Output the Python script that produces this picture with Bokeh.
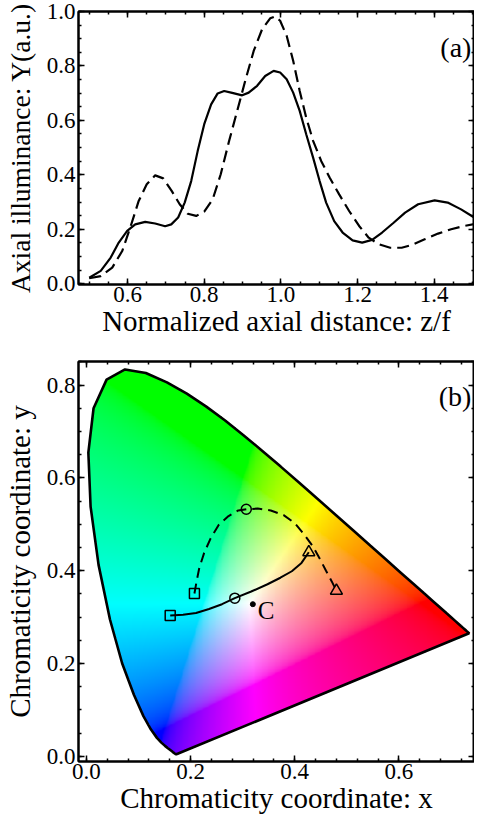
import numpy as np
from bokeh.plotting import figure
from bokeh.models import Range1d, LinearAxis, SingleIntervalTicker, Label, PrintfTickFormatter
from bokeh.layouts import column
from bokeh.embed import file_html
from bokeh.resources import INLINE

# ---------------- Panel (a) data: axial illuminance ----------------
za_solid = [0.500, 0.530, 0.556, 0.577, 0.599, 0.620, 0.646, 0.672, 0.698, 0.714, 0.732,
            0.749, 0.766, 0.783, 0.800, 0.818, 0.835, 0.852, 0.873, 0.899, 0.916, 0.938,
            0.959, 0.981, 0.998, 1.015, 1.032, 1.049, 1.066, 1.084, 1.101, 1.118, 1.139,
            1.161, 1.187, 1.212, 1.238, 1.264, 1.294, 1.324, 1.358, 1.401, 1.435, 1.470, 1.508]
ya_solid = [0.022, 0.047, 0.096, 0.151, 0.194, 0.218, 0.227, 0.221, 0.211, 0.218, 0.243,
            0.298, 0.377, 0.488, 0.586, 0.659, 0.699, 0.708, 0.701, 0.692, 0.702, 0.727,
            0.763, 0.782, 0.776, 0.751, 0.702, 0.635, 0.549, 0.463, 0.377, 0.298, 0.230,
            0.188, 0.159, 0.151, 0.161, 0.188, 0.224, 0.261, 0.292, 0.306, 0.298, 0.273, 0.240]
za_dash = [0.500, 0.530, 0.560, 0.586, 0.607, 0.629, 0.650, 0.672, 0.693, 0.715, 0.736,
           0.757, 0.779, 0.800, 0.822, 0.843, 0.865, 0.886, 0.908, 0.929, 0.951, 0.972,
           0.985, 0.998, 1.015, 1.032, 1.049, 1.066, 1.084, 1.105, 1.127, 1.152, 1.178,
           1.204, 1.229, 1.255, 1.285, 1.315, 1.341, 1.375, 1.410, 1.444, 1.478, 1.513]
ya_dash = [0.020, 0.028, 0.059, 0.120, 0.206, 0.304, 0.365, 0.398, 0.387, 0.341, 0.292,
           0.257, 0.249, 0.265, 0.310, 0.402, 0.525, 0.635, 0.751, 0.855, 0.935, 0.975,
           0.982, 0.966, 0.911, 0.819, 0.708, 0.610, 0.525, 0.451, 0.390, 0.328, 0.267,
           0.212, 0.169, 0.145, 0.132, 0.132, 0.142, 0.163, 0.184, 0.200, 0.212, 0.221]

# ---------------- Panel (b) data: CIE 1931 chromaticity ----------------
locus_x = [0.1741, 0.1740, 0.1738, 0.1736, 0.1733, 0.1730, 0.1726, 0.1721, 0.1714, 0.1703,
           0.1689, 0.1669, 0.1644, 0.1611, 0.1566, 0.1510, 0.1440, 0.1355, 0.1241, 0.1096,
           0.0913, 0.0687, 0.0454, 0.0235, 0.0082, 0.0039, 0.0139, 0.0389, 0.0743, 0.1142,
           0.1547, 0.1929, 0.2296, 0.2658, 0.3016, 0.3373, 0.3731, 0.4087, 0.4441, 0.4788,
           0.5125, 0.5448, 0.5752, 0.6029, 0.6270, 0.6482, 0.6658, 0.6801, 0.6915, 0.7006,
           0.7079, 0.7140, 0.7190, 0.7230, 0.7260, 0.7283, 0.7300, 0.7311, 0.7320, 0.7327,
           0.7334, 0.7340, 0.7344, 0.7346, 0.7347]
locus_y = [0.0050, 0.0050, 0.0049, 0.0049, 0.0048, 0.0048, 0.0048, 0.0048, 0.0051, 0.0058,
           0.0069, 0.0086, 0.0109, 0.0138, 0.0177, 0.0227, 0.0297, 0.0399, 0.0578, 0.0868,
           0.1327, 0.2007, 0.2950, 0.4127, 0.5384, 0.6548, 0.7502, 0.8120, 0.8338, 0.8262,
           0.8059, 0.7816, 0.7543, 0.7243, 0.6923, 0.6589, 0.6245, 0.5896, 0.5547, 0.5202,
           0.4866, 0.4544, 0.4242, 0.3965, 0.3725, 0.3514, 0.3340, 0.3197, 0.3083, 0.2993,
           0.2920, 0.2859, 0.2809, 0.2770, 0.2740, 0.2717, 0.2700, 0.2689, 0.2680, 0.2673,
           0.2666, 0.2660, 0.2656, 0.2654, 0.2653]

solid_cx = [0.161, 0.1856, 0.2105, 0.2355, 0.2604, 0.285, 0.3165, 0.3477, 0.3725, 0.3944, 0.413, 0.427]
solid_cy = [0.3035, 0.305, 0.309, 0.3177, 0.328, 0.341, 0.3553, 0.371, 0.385, 0.399, 0.417, 0.440]
dash_cx = [0.2075, 0.2118, 0.2168, 0.226, 0.2386, 0.254, 0.273, 0.2916, 0.307, 0.329, 0.354,
           0.3787, 0.4006, 0.419, 0.4348, 0.4473, 0.4598, 0.4722, 0.480]
dash_cy = [0.351, 0.378, 0.406, 0.438, 0.470, 0.4986, 0.518, 0.530, 0.5326, 0.534, 0.530,
           0.520, 0.502, 0.477, 0.4525, 0.4277, 0.4007, 0.3745, 0.357]

square_x = [0.161, 0.2075]
square_y = [0.3035, 0.351]
circle_x = [0.285, 0.307]
circle_y = [0.341, 0.5326]
triangle_x = [0.427, 0.480]
triangle_y = [0.440, 0.357]
point_c_x = [0.3196]
point_c_y = [0.328]

FONT = "Liberation Serif"


def style_axes(p, xint, xminor, yint, yminor):
    p.outline_line_color = "black"
    p.outline_line_width = 2
    p.grid.visible = False
    for loc in ("above", "right"):
        ax = LinearAxis()
        p.add_layout(ax, loc)
    for ax in p.xaxis:
        ax.ticker = SingleIntervalTicker(interval=xint, num_minor_ticks=xminor)
    for ax in p.yaxis:
        ax.ticker = SingleIntervalTicker(interval=yint, num_minor_ticks=yminor)
    for ax in p.axis:
        ax.formatter = PrintfTickFormatter(format="%.1f")
        ax.axis_line_color = "black"
        ax.axis_line_width = 2
        ax.major_tick_in = 6
        ax.major_tick_out = 0
        ax.minor_tick_in = 3
        ax.minor_tick_out = 0
        ax.major_tick_line_width = 1.5
        ax.minor_tick_line_width = 1.5
        ax.major_tick_line_color = "black"
        ax.minor_tick_line_color = "black"
        ax.major_label_text_font = FONT
        ax.major_label_text_font_size = "23px"
        ax.major_label_text_color = "black"
        ax.axis_label_text_font = FONT
        ax.axis_label_text_font_size = "29px"
        ax.axis_label_text_font_style = "normal"
        ax.axis_label_text_color = "black"
    for ax in p.above + p.right:
        ax.major_label_text_color = None
        ax.major_label_text_font_size = "1px"
        ax.major_label_standoff = 0
        ax.axis_label = None
    p.below[0].major_label_standoff = 2
    p.below[0].axis_label_standoff = 0
    p.left[0].major_label_standoff = 3
    p.left[0].axis_label_standoff = 8


# ---------------- Figure (a) ----------------
pa = figure(width=474, height=347, output_backend="svg", toolbar_location=None,
            x_range=Range1d(0.472, 1.505), y_range=Range1d(-0.003, 1.0),
            min_border_left=75, min_border_right=0, min_border_top=11, min_border_bottom=63,
            background_fill_color="white", border_fill_color="white")
pa.xaxis.axis_label = "Normalized axial distance: z/f"
pa.yaxis.axis_label = "Axial illuminance: Y(a.u.)"
pa.line(za_solid, ya_solid, line_color="black", line_width=2.2)
pa.line(za_dash, ya_dash, line_color="black", line_width=2.2, line_dash="12 6")
style_axes(pa, 0.2, 4, 0.2, 4)
pa.left[0].axis_label_text_font_size = "27.5px"
pa.add_layout(Label(x=1.497, y=0.868, text="(a)", text_font=FONT, text_font_size="28px",
                    text_align="right", text_baseline="middle", text_color="black"))

# ---------------- Figure (b) ----------------
pb = figure(width=474, height=476, output_backend="svg", toolbar_location=None,
            x_range=Range1d(-0.015, 0.745), y_range=Range1d(-0.011, 0.851),
            min_border_left=75, min_border_right=0, min_border_top=14, min_border_bottom=62,
            background_fill_color="white", border_fill_color="white")
pb.xaxis.axis_label = "Chromaticity coordinate: x"
pb.yaxis.axis_label = "Chromaticity coordinate: y"

# colour fill of the chromaticity gamut
nx, ny = 450, 510
x0, x1, y0, y1 = 0.0, 0.75, 0.0, 0.85
gx = x0 + (np.arange(nx) + 0.5) * (x1 - x0) / nx
gy = y0 + (np.arange(ny) + 0.5) * (y1 - y0) / ny
GX, GY = np.meshgrid(gx, gy)
Xc = GX / GY
Zc = (1.0 - GX - GY) / GY
R = 3.2406 * Xc - 1.5372 - 0.4986 * Zc
G = -0.9689 * Xc + 1.8758 + 0.0415 * Zc
B = 0.0557 * Xc - 0.2040 + 1.0570 * Zc
rgb = np.clip(np.stack([R, G, B], axis=-1), 0, None)
rgb = rgb / np.maximum(rgb.max(axis=-1, keepdims=True), 1e-9)
rgb = np.where(rgb <= 0.0031308, 12.92 * rgb, 1.055 * np.power(rgb, 1 / 2.4) - 0.055)
rgb = np.clip(rgb, 0, 1)

vx = np.array(locus_x)
vy = np.array(locus_y)
inside = np.zeros(GX.shape, dtype=bool)
n = len(vx)
j = n - 1
for i in range(n):
    xi, yi, xj, yj = vx[i], vy[i], vx[j], vy[j]
    cond = (yi > GY) != (yj > GY)
    denom = (yj - yi) if abs(yj - yi) > 1e-12 else 1e-12
    xint = (xj - xi) * (GY - yi) / denom + xi
    inside ^= cond & (GX < xint)
    j = i

img = np.zeros((ny, nx), dtype=np.uint32)
view = img.view(dtype=np.uint8).reshape((ny, nx, 4))
view[:, :, 0] = (rgb[:, :, 0] * 255).astype(np.uint8)
view[:, :, 1] = (rgb[:, :, 1] * 255).astype(np.uint8)
view[:, :, 2] = (rgb[:, :, 2] * 255).astype(np.uint8)
view[:, :, 3] = np.where(inside, 255, 0).astype(np.uint8)
pb.image_rgba(image=[img], x=x0, y=y0, dw=x1 - x0, dh=y1 - y0)

pb.line(locus_x + [locus_x[0]], locus_y + [locus_y[0]], line_color="black", line_width=2.6)
pb.line(solid_cx, solid_cy, line_color="black", line_width=2)
pb.line(dash_cx, dash_cy, line_color="black", line_width=2, line_dash="10 6")
pb.scatter(square_x, square_y, marker="square", size=10, fill_color=None, line_color="black", line_width=1.5)
pb.scatter(circle_x, circle_y, marker="circle", size=10, fill_color=None, line_color="black", line_width=1.5)
pb.scatter(triangle_x, triangle_y, marker="triangle", size=12, fill_color=None, line_color="black", line_width=1.5)
pb.scatter(point_c_x, point_c_y, marker="circle", size=5, fill_color="black", line_color="black")
pb.add_layout(Label(x=0.329, y=0.314, text="C", text_font=FONT, text_font_size="25px",
                    text_align="left", text_baseline="middle", text_color="black"))
style_axes(pb, 0.2, 5, 0.2, 4)
pb.add_layout(Label(x=0.739, y=0.776, text="(b)", text_font=FONT, text_font_size="28px",
                    text_align="right", text_baseline="middle", text_color="black"))

layout = column(pa, pb, spacing=0)
open("out.html", "w").write(file_html(layout, INLINE))
